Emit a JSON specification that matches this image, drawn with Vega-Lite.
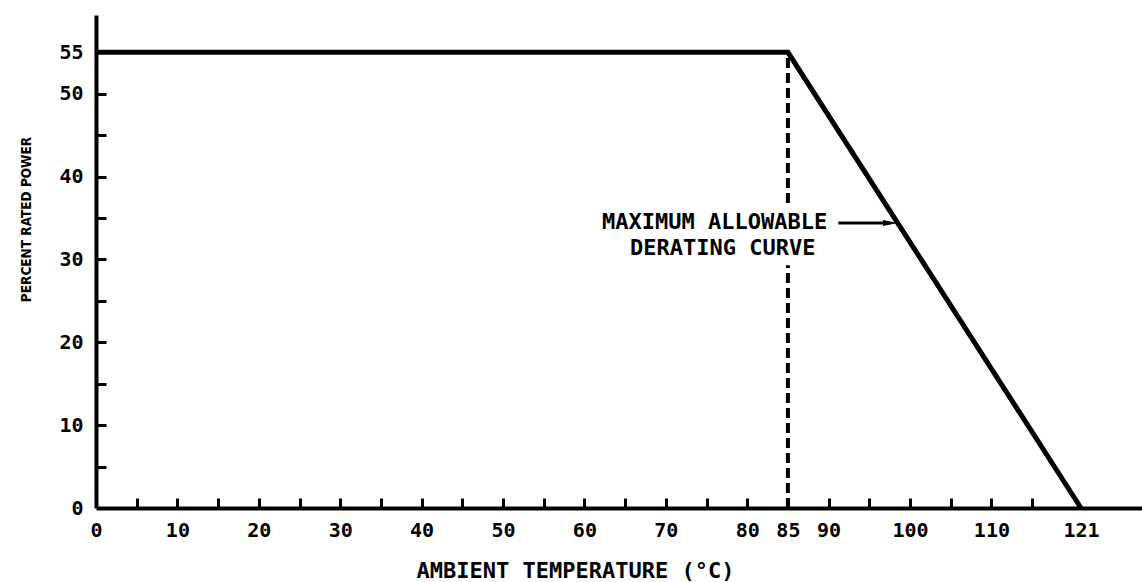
{
  "$schema": "https://vega.github.io/schema/vega-lite/v6.json",
  "width": 1046,
  "height": 493,
  "autosize": {"type": "none"},
  "padding": {"left": 96, "top": 15, "right": 0, "bottom": 74},
  "background": "white",
  "config": {
    "view": {"stroke": null},
    "axis": {
      "grid": false,
      "domainColor": "black",
      "domainWidth": 4,
      "tickColor": "black",
      "tickWidth": 3,
      "tickSize": -10,
      "labelFont": "DejaVu Sans Mono",
      "labelFontSize": 20,
      "labelFontWeight": "bold",
      "labelColor": "black",
      "labelOverlap": false,
      "labelFlush": false,
      "titleFont": "DejaVu Sans Mono",
      "titleColor": "black",
      "titleFontWeight": "bold"
    }
  },
  "datasets": {
    "curve": [
      {"temp": 0, "power": 55},
      {"temp": 85, "power": 55},
      {"temp": 121, "power": 0}
    ],
    "dashed": [
      {"temp": 85, "power": 0, "power2": 29.3},
      {"temp": 85, "power": 36.8, "power2": 55}
    ],
    "arrow": [{"temp": 91.2, "temp2": 97.0, "power": 34.4}],
    "head": [{"temp": 97.6, "power": 34.4}],
    "notes": [
      {"temp": 76.0, "power": 34.5, "text": "MAXIMUM ALLOWABLE"},
      {"temp": 77.0, "power": 31.4, "text": "DERATING CURVE"}
    ]
  },
  "layer": [
    {
      "data": {"name": "curve"},
      "mark": {"type": "line", "color": "black", "strokeWidth": 5, "strokeJoin": "miter"},
      "encoding": {
        "x": {
          "field": "temp",
          "type": "quantitative",
          "scale": {"domain": [0, 128.5], "nice": false, "zero": false},
          "axis": {
            "title": "AMBIENT TEMPERATURE (°C)",
            "titleFontSize": 22,
            "titleX": 479,
            "titleY": 62,
            "titleAlign": "center",
            "titleBaseline": "middle",
            "values": [0, 5, 10, 15, 20, 25, 30, 35, 40, 45, 50, 55, 60, 65, 70, 75, 80, 85, 90, 95, 100, 105, 110, 115, 121],
            "labelExpr": "indexof([0,10,20,30,40,50,60,70,80,85,90,100,110,121], datum.value) >= 0 ? datum.label : ''",
            "tickOpacity": {"condition": {"test": "datum.value == 121 || datum.value == 0", "value": 0}, "value": 1},
            "labelPadding": 22
          }
        },
        "y": {
          "field": "power",
          "type": "quantitative",
          "scale": {"domain": [0, 59.5], "nice": false},
          "axis": {
            "title": "PERCENT RATED POWER",
            "titleFont": "DejaVu Sans Condensed",
            "titleFontWeight": "bold",
            "titleFontSize": 13.5,
            "titleAngle": 270,
            "titleX": -70,
            "titleY": 204,
            "titleAlign": "center",
            "titleBaseline": "middle",
            "values": [0, 5, 10, 15, 20, 25, 30, 35, 40, 45, 50, 55],
            "labelExpr": "indexof([0,10,20,30,40,50,55], datum.value) >= 0 ? datum.label : ''",
            "tickOpacity": {"condition": {"test": "datum.value == 0 || datum.value == 55", "value": 0}, "value": 1},
            "labelPadding": 23
          }
        }
      }
    },
    {
      "data": {"name": "dashed"},
      "mark": {"type": "rule", "color": "black", "strokeWidth": 4, "strokeDash": [10, 5]},
      "encoding": {
        "x": {"field": "temp", "type": "quantitative"},
        "y": {"field": "power", "type": "quantitative"},
        "y2": {"field": "power2"}
      }
    },
    {
      "data": {"name": "arrow"},
      "mark": {"type": "rule", "color": "black", "strokeWidth": 3},
      "encoding": {
        "x": {"field": "temp", "type": "quantitative"},
        "x2": {"field": "temp2"},
        "y": {"field": "power", "type": "quantitative"}
      }
    },
    {
      "data": {"name": "head"},
      "mark": {"type": "point", "shape": "M-1,-0.4L1,0L-1,0.4Z", "filled": true, "color": "black", "opacity": 1, "size": 225},
      "encoding": {
        "x": {"field": "temp", "type": "quantitative"},
        "y": {"field": "power", "type": "quantitative"}
      }
    },
    {
      "data": {"name": "notes"},
      "mark": {"type": "text", "font": "DejaVu Sans Mono", "fontWeight": "bold", "fontSize": 22, "color": "black", "align": "center", "baseline": "middle"},
      "encoding": {
        "x": {"field": "temp", "type": "quantitative"},
        "y": {"field": "power", "type": "quantitative"},
        "text": {"field": "text"}
      }
    }
  ]
}
